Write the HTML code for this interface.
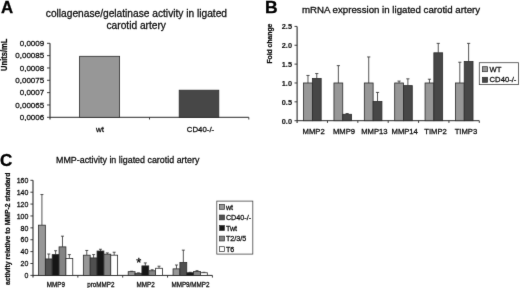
<!DOCTYPE html>
<html lang="en">
<head>
<meta charset="utf-8">
<title>Figure</title>
<style>
html,body{margin:0;padding:0;background:#fff;}
body{width:520px;height:288px;overflow:hidden;}
svg{display:block;font-family:"Liberation Sans",Arial,sans-serif;}
</style>
</head>
<body>
<svg width="520" height="288" viewBox="0 0 520 288">
<defs><filter id="soft" x="0" y="0" width="520" height="288" filterUnits="userSpaceOnUse" color-interpolation-filters="sRGB"><feConvolveMatrix order="3" kernelMatrix="0.01 0.06 0.01 0.06 0.72 0.06 0.01 0.06 0.01" divisor="1" edgeMode="duplicate" preserveAlpha="true"/></filter></defs>
<rect width="520" height="288" fill="#fff"/>
<g filter="url(#soft)">
<rect width="520" height="288" fill="#fff"/>
<g id="panelA">
<text transform="translate(1.1,13.0) scale(1.0,1)" font-size="16.8" text-anchor="start" font-weight="bold" fill="#000" stroke="#000" stroke-width="0.3">A</text>
<text transform="translate(136.4,16.9) scale(1.0,1)" font-size="10.2" text-anchor="middle" font-weight="normal" fill="#0d0d0d" stroke="#0d0d0d" stroke-width="0.27">collagenase/gelatinase activity in ligated</text>
<text transform="translate(136.2,28.9) scale(1.0,1)" font-size="10.2" text-anchor="middle" font-weight="normal" fill="#0d0d0d" stroke="#0d0d0d" stroke-width="0.27">carotid artery</text>
<text transform="translate(7.2,54.8) rotate(-90) scale(0.875,1)" font-size="8.6" text-anchor="middle" font-weight="bold" fill="#0d0d0d" stroke="#0d0d0d" stroke-width="0.27">Units/mL</text>
<line x1="50.00" y1="43.30" x2="50.00" y2="119.50" stroke="#2b2b2b" stroke-width="1.1"/>
<line x1="50.00" y1="117.30" x2="248.80" y2="117.30" stroke="#2b2b2b" stroke-width="1.0"/>
<line x1="47.00" y1="43.30" x2="50.00" y2="43.30" stroke="#2b2b2b" stroke-width="0.9"/>
<text transform="translate(44.2,46.099999999999994) scale(1.0,1)" font-size="8" text-anchor="end" font-weight="normal" fill="#0d0d0d" stroke="#0d0d0d" stroke-width="0.27">0,0009</text>
<line x1="47.00" y1="55.63" x2="50.00" y2="55.63" stroke="#2b2b2b" stroke-width="0.9"/>
<text transform="translate(44.2,58.43333333333333) scale(1.0,1)" font-size="8" text-anchor="end" font-weight="normal" fill="#0d0d0d" stroke="#0d0d0d" stroke-width="0.27">0,00085</text>
<line x1="47.00" y1="67.97" x2="50.00" y2="67.97" stroke="#2b2b2b" stroke-width="0.9"/>
<text transform="translate(44.2,70.76666666666667) scale(1.0,1)" font-size="8" text-anchor="end" font-weight="normal" fill="#0d0d0d" stroke="#0d0d0d" stroke-width="0.27">0,0008</text>
<line x1="47.00" y1="80.30" x2="50.00" y2="80.30" stroke="#2b2b2b" stroke-width="0.9"/>
<text transform="translate(44.2,83.1) scale(1.0,1)" font-size="8" text-anchor="end" font-weight="normal" fill="#0d0d0d" stroke="#0d0d0d" stroke-width="0.27">0,00075</text>
<line x1="47.00" y1="92.63" x2="50.00" y2="92.63" stroke="#2b2b2b" stroke-width="0.9"/>
<text transform="translate(44.2,95.43333333333332) scale(1.0,1)" font-size="8" text-anchor="end" font-weight="normal" fill="#0d0d0d" stroke="#0d0d0d" stroke-width="0.27">0,0007</text>
<line x1="47.00" y1="104.97" x2="50.00" y2="104.97" stroke="#2b2b2b" stroke-width="0.9"/>
<text transform="translate(44.2,107.76666666666667) scale(1.0,1)" font-size="8" text-anchor="end" font-weight="normal" fill="#0d0d0d" stroke="#0d0d0d" stroke-width="0.27">0,00065</text>
<line x1="47.00" y1="117.30" x2="50.00" y2="117.30" stroke="#2b2b2b" stroke-width="0.9"/>
<text transform="translate(44.2,120.1) scale(1.0,1)" font-size="8" text-anchor="end" font-weight="normal" fill="#0d0d0d" stroke="#0d0d0d" stroke-width="0.27">0,0006</text>
<line x1="149.50" y1="117.30" x2="149.50" y2="119.50" stroke="#2b2b2b" stroke-width="0.9"/>
<line x1="248.80" y1="117.30" x2="248.80" y2="119.50" stroke="#2b2b2b" stroke-width="0.9"/>
<rect x="79.60" y="56.30" width="40.00" height="61.00" fill="#979797" stroke="#2b2b2b" stroke-width="0.8"/>
<rect x="179.20" y="90.20" width="39.60" height="27.10" fill="#474747" stroke="#2b2b2b" stroke-width="0.8"/>
<text transform="translate(99.9,132.2) scale(1.0,1)" font-size="8" text-anchor="middle" font-weight="normal" fill="#0d0d0d" stroke="#0d0d0d" stroke-width="0.27">wt</text>
<text transform="translate(200.5,132.0) scale(1.0,1)" font-size="7.8" text-anchor="middle" font-weight="normal" fill="#0d0d0d" stroke="#0d0d0d" stroke-width="0.27">CD40-/-</text>
</g>
<g id="panelB">
<text transform="translate(264.9,12.7) scale(1.08,1)" font-size="16.2" text-anchor="start" font-weight="bold" fill="#000" stroke="#000" stroke-width="0.3">B</text>
<text transform="translate(391,12.9) scale(1.066,1)" font-size="9.1" text-anchor="middle" font-weight="normal" fill="#0d0d0d" stroke="#0d0d0d" stroke-width="0.27">mRNA expression in ligated carotid artery</text>
<text transform="translate(271.5,43.6) rotate(-90) scale(0.85,1)" font-size="8.0" text-anchor="middle" font-weight="bold" fill="#0d0d0d" stroke="#0d0d0d" stroke-width="0.27">Fold change</text>
<line x1="297.10" y1="26.40" x2="297.10" y2="122.90" stroke="#2b2b2b" stroke-width="1.1"/>
<line x1="297.10" y1="120.70" x2="479.30" y2="120.70" stroke="#2b2b2b" stroke-width="1.0"/>
<line x1="294.50" y1="26.40" x2="297.10" y2="26.40" stroke="#2b2b2b" stroke-width="0.9"/>
<text transform="translate(292.0,29.299999999999997) scale(0.97,1)" font-size="7.6" text-anchor="end" font-weight="bold" fill="#0d0d0d" stroke="#0d0d0d" stroke-width="0.1">2.5</text>
<line x1="294.50" y1="45.26" x2="297.10" y2="45.26" stroke="#2b2b2b" stroke-width="0.9"/>
<text transform="translate(292.0,48.160000000000004) scale(0.97,1)" font-size="7.6" text-anchor="end" font-weight="bold" fill="#0d0d0d" stroke="#0d0d0d" stroke-width="0.1">2.0</text>
<line x1="294.50" y1="64.12" x2="297.10" y2="64.12" stroke="#2b2b2b" stroke-width="0.9"/>
<text transform="translate(292.0,67.02000000000001) scale(0.97,1)" font-size="7.6" text-anchor="end" font-weight="bold" fill="#0d0d0d" stroke="#0d0d0d" stroke-width="0.1">1.5</text>
<line x1="294.50" y1="82.98" x2="297.10" y2="82.98" stroke="#2b2b2b" stroke-width="0.9"/>
<text transform="translate(292.0,85.88000000000001) scale(0.97,1)" font-size="7.6" text-anchor="end" font-weight="bold" fill="#0d0d0d" stroke="#0d0d0d" stroke-width="0.1">1.0</text>
<line x1="294.50" y1="101.84" x2="297.10" y2="101.84" stroke="#2b2b2b" stroke-width="0.9"/>
<text transform="translate(292.0,104.74000000000001) scale(0.97,1)" font-size="7.6" text-anchor="end" font-weight="bold" fill="#0d0d0d" stroke="#0d0d0d" stroke-width="0.1">0.5</text>
<line x1="294.50" y1="120.70" x2="297.10" y2="120.70" stroke="#2b2b2b" stroke-width="0.9"/>
<text transform="translate(292.0,123.60000000000002) scale(0.97,1)" font-size="7.6" text-anchor="end" font-weight="bold" fill="#0d0d0d" stroke="#0d0d0d" stroke-width="0.1">0.0</text>
<line x1="327.47" y1="120.70" x2="327.47" y2="122.90" stroke="#2b2b2b" stroke-width="0.9"/>
<line x1="307.98" y1="75.44" x2="307.98" y2="82.98" stroke="#2b2b2b" stroke-width="0.8"/>
<line x1="306.38" y1="75.44" x2="309.58" y2="75.44" stroke="#2b2b2b" stroke-width="0.8"/>
<line x1="316.78" y1="73.55" x2="316.78" y2="78.45" stroke="#2b2b2b" stroke-width="0.8"/>
<line x1="315.18" y1="73.55" x2="318.38" y2="73.55" stroke="#2b2b2b" stroke-width="0.8"/>
<rect x="303.58" y="82.98" width="8.80" height="37.72" fill="#979797" stroke="#2b2b2b" stroke-width="0.8"/>
<rect x="312.38" y="78.45" width="8.80" height="42.25" fill="#474747" stroke="#2b2b2b" stroke-width="0.8"/>
<text transform="translate(313.58333333333337,133.6) scale(0.97,1)" font-size="7.9" text-anchor="middle" font-weight="normal" fill="#0d0d0d" stroke="#0d0d0d" stroke-width="0.27">MMP2</text>
<line x1="357.83" y1="120.70" x2="357.83" y2="122.90" stroke="#2b2b2b" stroke-width="0.9"/>
<line x1="338.35" y1="65.63" x2="338.35" y2="82.98" stroke="#2b2b2b" stroke-width="0.8"/>
<line x1="336.75" y1="65.63" x2="339.95" y2="65.63" stroke="#2b2b2b" stroke-width="0.8"/>
<line x1="347.15" y1="113.53" x2="347.15" y2="114.29" stroke="#2b2b2b" stroke-width="0.8"/>
<line x1="345.55" y1="113.53" x2="348.75" y2="113.53" stroke="#2b2b2b" stroke-width="0.8"/>
<rect x="333.95" y="82.98" width="8.80" height="37.72" fill="#979797" stroke="#2b2b2b" stroke-width="0.8"/>
<rect x="342.75" y="114.29" width="8.80" height="6.41" fill="#474747" stroke="#2b2b2b" stroke-width="0.8"/>
<text transform="translate(343.95000000000005,133.6) scale(0.97,1)" font-size="7.9" text-anchor="middle" font-weight="normal" fill="#0d0d0d" stroke="#0d0d0d" stroke-width="0.27">MMP9</text>
<line x1="388.20" y1="120.70" x2="388.20" y2="122.90" stroke="#2b2b2b" stroke-width="0.9"/>
<line x1="368.72" y1="56.95" x2="368.72" y2="82.98" stroke="#2b2b2b" stroke-width="0.8"/>
<line x1="367.12" y1="56.95" x2="370.32" y2="56.95" stroke="#2b2b2b" stroke-width="0.8"/>
<line x1="377.52" y1="92.41" x2="377.52" y2="101.46" stroke="#2b2b2b" stroke-width="0.8"/>
<line x1="375.92" y1="92.41" x2="379.12" y2="92.41" stroke="#2b2b2b" stroke-width="0.8"/>
<rect x="364.32" y="82.98" width="8.80" height="37.72" fill="#979797" stroke="#2b2b2b" stroke-width="0.8"/>
<rect x="373.12" y="101.46" width="8.80" height="19.24" fill="#474747" stroke="#2b2b2b" stroke-width="0.8"/>
<text transform="translate(374.3166666666667,133.6) scale(0.97,1)" font-size="7.9" text-anchor="middle" font-weight="normal" fill="#0d0d0d" stroke="#0d0d0d" stroke-width="0.27">MMP13</text>
<line x1="418.57" y1="120.70" x2="418.57" y2="122.90" stroke="#2b2b2b" stroke-width="0.9"/>
<line x1="399.08" y1="81.09" x2="399.08" y2="82.98" stroke="#2b2b2b" stroke-width="0.8"/>
<line x1="397.48" y1="81.09" x2="400.68" y2="81.09" stroke="#2b2b2b" stroke-width="0.8"/>
<line x1="407.88" y1="78.83" x2="407.88" y2="85.62" stroke="#2b2b2b" stroke-width="0.8"/>
<line x1="406.28" y1="78.83" x2="409.48" y2="78.83" stroke="#2b2b2b" stroke-width="0.8"/>
<rect x="394.68" y="82.98" width="8.80" height="37.72" fill="#979797" stroke="#2b2b2b" stroke-width="0.8"/>
<rect x="403.48" y="85.62" width="8.80" height="35.08" fill="#474747" stroke="#2b2b2b" stroke-width="0.8"/>
<text transform="translate(404.6833333333334,133.6) scale(0.97,1)" font-size="7.9" text-anchor="middle" font-weight="normal" fill="#0d0d0d" stroke="#0d0d0d" stroke-width="0.27">MMP14</text>
<line x1="448.93" y1="120.70" x2="448.93" y2="122.90" stroke="#2b2b2b" stroke-width="0.9"/>
<line x1="429.45" y1="79.21" x2="429.45" y2="82.98" stroke="#2b2b2b" stroke-width="0.8"/>
<line x1="427.85" y1="79.21" x2="431.05" y2="79.21" stroke="#2b2b2b" stroke-width="0.8"/>
<line x1="438.25" y1="43.37" x2="438.25" y2="52.80" stroke="#2b2b2b" stroke-width="0.8"/>
<line x1="436.65" y1="43.37" x2="439.85" y2="43.37" stroke="#2b2b2b" stroke-width="0.8"/>
<rect x="425.05" y="82.98" width="8.80" height="37.72" fill="#979797" stroke="#2b2b2b" stroke-width="0.8"/>
<rect x="433.85" y="52.80" width="8.80" height="67.90" fill="#474747" stroke="#2b2b2b" stroke-width="0.8"/>
<text transform="translate(435.55,133.6) scale(0.97,1)" font-size="7.9" text-anchor="middle" font-weight="normal" fill="#0d0d0d" stroke="#0d0d0d" stroke-width="0.27">TIMP2</text>
<line x1="479.30" y1="120.70" x2="479.30" y2="122.90" stroke="#2b2b2b" stroke-width="0.9"/>
<line x1="459.82" y1="62.23" x2="459.82" y2="82.98" stroke="#2b2b2b" stroke-width="0.8"/>
<line x1="458.22" y1="62.23" x2="461.42" y2="62.23" stroke="#2b2b2b" stroke-width="0.8"/>
<line x1="468.62" y1="43.37" x2="468.62" y2="61.48" stroke="#2b2b2b" stroke-width="0.8"/>
<line x1="467.02" y1="43.37" x2="470.22" y2="43.37" stroke="#2b2b2b" stroke-width="0.8"/>
<rect x="455.42" y="82.98" width="8.80" height="37.72" fill="#979797" stroke="#2b2b2b" stroke-width="0.8"/>
<rect x="464.22" y="61.48" width="8.80" height="59.22" fill="#474747" stroke="#2b2b2b" stroke-width="0.8"/>
<text transform="translate(465.9166666666667,133.6) scale(0.97,1)" font-size="7.9" text-anchor="middle" font-weight="normal" fill="#0d0d0d" stroke="#0d0d0d" stroke-width="0.27">TIMP3</text>
<rect x="479.30" y="62.70" width="39.20" height="21.90" fill="#fff" stroke="#444" stroke-width="0.8"/>
<rect x="482.40" y="66.70" width="5.20" height="5.00" fill="#979797" stroke="#2b2b2b" stroke-width="0.7"/>
<text transform="translate(489.6,71.6) scale(0.98,1)" font-size="7.8" text-anchor="start" font-weight="normal" fill="#0d0d0d" stroke="#0d0d0d" stroke-width="0.27">WT</text>
<rect x="482.40" y="77.30" width="5.20" height="5.00" fill="#474747" stroke="#2b2b2b" stroke-width="0.7"/>
<text transform="translate(489.6,82.3) scale(0.98,1)" font-size="7.8" text-anchor="start" font-weight="normal" fill="#0d0d0d" stroke="#0d0d0d" stroke-width="0.27">CD40-/-</text>
</g>
<g id="panelC">
<text transform="translate(0.0,165.6) scale(1.05,1)" font-size="16.2" text-anchor="start" font-weight="bold" fill="#000" stroke="#000" stroke-width="0.3">C</text>
<text transform="translate(127.7,162.8) scale(0.968,1)" font-size="9.2" text-anchor="middle" font-weight="normal" fill="#0d0d0d" stroke="#0d0d0d" stroke-width="0.27">MMP-activity in ligated carotid artery</text>
<text transform="translate(10.3,228.8) rotate(-90) scale(0.913,1)" font-size="7.5" text-anchor="middle" font-weight="bold" fill="#0d0d0d" stroke="#0d0d0d" stroke-width="0.27">activity relative to MMP-2 standard</text>
<line x1="33.00" y1="180.30" x2="33.00" y2="277.60" stroke="#2b2b2b" stroke-width="1.1"/>
<line x1="33.00" y1="275.40" x2="212.40" y2="275.40" stroke="#2b2b2b" stroke-width="1.0"/>
<line x1="30.40" y1="180.30" x2="33.00" y2="180.30" stroke="#2b2b2b" stroke-width="0.9"/>
<text transform="translate(28.3,183.0) scale(0.92,1)" font-size="7.6" text-anchor="end" font-weight="normal" fill="#0d0d0d" stroke="#0d0d0d" stroke-width="0.27">160</text>
<line x1="30.40" y1="192.19" x2="33.00" y2="192.19" stroke="#2b2b2b" stroke-width="0.9"/>
<text transform="translate(28.3,194.8875) scale(0.92,1)" font-size="7.6" text-anchor="end" font-weight="normal" fill="#0d0d0d" stroke="#0d0d0d" stroke-width="0.27">140</text>
<line x1="30.40" y1="204.07" x2="33.00" y2="204.07" stroke="#2b2b2b" stroke-width="0.9"/>
<text transform="translate(28.3,206.77499999999998) scale(0.92,1)" font-size="7.6" text-anchor="end" font-weight="normal" fill="#0d0d0d" stroke="#0d0d0d" stroke-width="0.27">120</text>
<line x1="30.40" y1="215.96" x2="33.00" y2="215.96" stroke="#2b2b2b" stroke-width="0.9"/>
<text transform="translate(28.3,218.6625) scale(0.92,1)" font-size="7.6" text-anchor="end" font-weight="normal" fill="#0d0d0d" stroke="#0d0d0d" stroke-width="0.27">100</text>
<line x1="30.40" y1="227.85" x2="33.00" y2="227.85" stroke="#2b2b2b" stroke-width="0.9"/>
<text transform="translate(28.3,230.54999999999998) scale(0.92,1)" font-size="7.6" text-anchor="end" font-weight="normal" fill="#0d0d0d" stroke="#0d0d0d" stroke-width="0.27">80</text>
<line x1="30.40" y1="239.74" x2="33.00" y2="239.74" stroke="#2b2b2b" stroke-width="0.9"/>
<text transform="translate(28.3,242.43749999999997) scale(0.92,1)" font-size="7.6" text-anchor="end" font-weight="normal" fill="#0d0d0d" stroke="#0d0d0d" stroke-width="0.27">60</text>
<line x1="30.40" y1="251.62" x2="33.00" y2="251.62" stroke="#2b2b2b" stroke-width="0.9"/>
<text transform="translate(28.3,254.325) scale(0.92,1)" font-size="7.6" text-anchor="end" font-weight="normal" fill="#0d0d0d" stroke="#0d0d0d" stroke-width="0.27">40</text>
<line x1="30.40" y1="263.51" x2="33.00" y2="263.51" stroke="#2b2b2b" stroke-width="0.9"/>
<text transform="translate(28.3,266.2125) scale(0.92,1)" font-size="7.6" text-anchor="end" font-weight="normal" fill="#0d0d0d" stroke="#0d0d0d" stroke-width="0.27">20</text>
<line x1="30.40" y1="275.40" x2="33.00" y2="275.40" stroke="#2b2b2b" stroke-width="0.9"/>
<text transform="translate(28.3,278.09999999999997) scale(0.92,1)" font-size="7.6" text-anchor="end" font-weight="normal" fill="#0d0d0d" stroke="#0d0d0d" stroke-width="0.27">0</text>
<line x1="77.85" y1="275.40" x2="77.85" y2="277.60" stroke="#2b2b2b" stroke-width="0.9"/>
<line x1="41.92" y1="194.56" x2="41.92" y2="225.18" stroke="#2b2b2b" stroke-width="0.8"/>
<line x1="40.42" y1="194.56" x2="43.42" y2="194.56" stroke="#2b2b2b" stroke-width="0.8"/>
<rect x="38.50" y="225.18" width="6.85" height="50.22" fill="#979797" stroke="#2b2b2b" stroke-width="0.8"/>
<line x1="48.77" y1="254.00" x2="48.77" y2="258.94" stroke="#2b2b2b" stroke-width="0.8"/>
<line x1="47.27" y1="254.00" x2="50.27" y2="254.00" stroke="#2b2b2b" stroke-width="0.8"/>
<rect x="45.35" y="258.94" width="6.85" height="16.46" fill="#505050" stroke="#2b2b2b" stroke-width="0.8"/>
<line x1="55.62" y1="250.73" x2="55.62" y2="254.60" stroke="#2b2b2b" stroke-width="0.8"/>
<line x1="54.12" y1="250.73" x2="57.12" y2="250.73" stroke="#2b2b2b" stroke-width="0.8"/>
<rect x="52.20" y="254.60" width="6.85" height="20.80" fill="#161616" stroke="#2b2b2b" stroke-width="0.8"/>
<line x1="62.47" y1="236.17" x2="62.47" y2="246.87" stroke="#2b2b2b" stroke-width="0.8"/>
<line x1="60.97" y1="236.17" x2="63.97" y2="236.17" stroke="#2b2b2b" stroke-width="0.8"/>
<rect x="59.05" y="246.87" width="6.85" height="28.53" fill="#848484" stroke="#2b2b2b" stroke-width="0.8"/>
<line x1="69.33" y1="254.60" x2="69.33" y2="258.46" stroke="#2b2b2b" stroke-width="0.8"/>
<line x1="67.83" y1="254.60" x2="70.83" y2="254.60" stroke="#2b2b2b" stroke-width="0.8"/>
<rect x="65.90" y="258.46" width="6.85" height="16.94" fill="#ffffff" stroke="#2b2b2b" stroke-width="0.8"/>
<text transform="translate(55.925,286.6) scale(0.913,1)" font-size="6.9" text-anchor="middle" font-weight="normal" fill="#0d0d0d" stroke="#0d0d0d" stroke-width="0.27">MMP9</text>
<line x1="122.70" y1="275.40" x2="122.70" y2="277.60" stroke="#2b2b2b" stroke-width="0.9"/>
<line x1="86.77" y1="250.44" x2="86.77" y2="255.19" stroke="#2b2b2b" stroke-width="0.8"/>
<line x1="85.27" y1="250.44" x2="88.27" y2="250.44" stroke="#2b2b2b" stroke-width="0.8"/>
<rect x="83.35" y="255.19" width="6.85" height="20.21" fill="#979797" stroke="#2b2b2b" stroke-width="0.8"/>
<line x1="93.62" y1="254.60" x2="93.62" y2="257.93" stroke="#2b2b2b" stroke-width="0.8"/>
<line x1="92.12" y1="254.60" x2="95.12" y2="254.60" stroke="#2b2b2b" stroke-width="0.8"/>
<rect x="90.20" y="257.93" width="6.85" height="17.47" fill="#505050" stroke="#2b2b2b" stroke-width="0.8"/>
<line x1="100.47" y1="249.25" x2="100.47" y2="251.03" stroke="#2b2b2b" stroke-width="0.8"/>
<line x1="98.97" y1="249.25" x2="101.97" y2="249.25" stroke="#2b2b2b" stroke-width="0.8"/>
<rect x="97.05" y="251.03" width="6.85" height="24.37" fill="#161616" stroke="#2b2b2b" stroke-width="0.8"/>
<line x1="107.32" y1="252.93" x2="107.32" y2="254.18" stroke="#2b2b2b" stroke-width="0.8"/>
<line x1="105.82" y1="252.93" x2="108.82" y2="252.93" stroke="#2b2b2b" stroke-width="0.8"/>
<rect x="103.90" y="254.18" width="6.85" height="21.22" fill="#848484" stroke="#2b2b2b" stroke-width="0.8"/>
<line x1="114.17" y1="252.22" x2="114.17" y2="255.19" stroke="#2b2b2b" stroke-width="0.8"/>
<line x1="112.67" y1="252.22" x2="115.67" y2="252.22" stroke="#2b2b2b" stroke-width="0.8"/>
<rect x="110.75" y="255.19" width="6.85" height="20.21" fill="#ffffff" stroke="#2b2b2b" stroke-width="0.8"/>
<text transform="translate(100.77499999999999,286.6) scale(0.913,1)" font-size="6.9" text-anchor="middle" font-weight="normal" fill="#0d0d0d" stroke="#0d0d0d" stroke-width="0.27">proMMP2</text>
<line x1="167.55" y1="275.40" x2="167.55" y2="277.60" stroke="#2b2b2b" stroke-width="0.9"/>
<line x1="131.62" y1="271.24" x2="131.62" y2="271.66" stroke="#2b2b2b" stroke-width="0.8"/>
<line x1="130.12" y1="271.24" x2="133.12" y2="271.24" stroke="#2b2b2b" stroke-width="0.8"/>
<rect x="128.20" y="271.66" width="6.85" height="3.74" fill="#979797" stroke="#2b2b2b" stroke-width="0.8"/>
<line x1="138.47" y1="272.90" x2="138.47" y2="273.26" stroke="#2b2b2b" stroke-width="0.8"/>
<line x1="136.97" y1="272.90" x2="139.97" y2="272.90" stroke="#2b2b2b" stroke-width="0.8"/>
<rect x="135.05" y="273.26" width="6.85" height="2.14" fill="#505050" stroke="#2b2b2b" stroke-width="0.8"/>
<line x1="145.32" y1="262.92" x2="145.32" y2="265.89" stroke="#2b2b2b" stroke-width="0.8"/>
<line x1="143.82" y1="262.92" x2="146.82" y2="262.92" stroke="#2b2b2b" stroke-width="0.8"/>
<rect x="141.90" y="265.89" width="6.85" height="9.51" fill="#161616" stroke="#2b2b2b" stroke-width="0.8"/>
<line x1="152.17" y1="269.75" x2="152.17" y2="270.76" stroke="#2b2b2b" stroke-width="0.8"/>
<line x1="150.67" y1="269.75" x2="153.67" y2="269.75" stroke="#2b2b2b" stroke-width="0.8"/>
<rect x="148.75" y="270.76" width="6.85" height="4.64" fill="#848484" stroke="#2b2b2b" stroke-width="0.8"/>
<line x1="159.02" y1="266.19" x2="159.02" y2="268.27" stroke="#2b2b2b" stroke-width="0.8"/>
<line x1="157.52" y1="266.19" x2="160.52" y2="266.19" stroke="#2b2b2b" stroke-width="0.8"/>
<rect x="155.60" y="268.27" width="6.85" height="7.13" fill="#ffffff" stroke="#2b2b2b" stroke-width="0.8"/>
<text transform="translate(145.625,286.6) scale(0.913,1)" font-size="6.9" text-anchor="middle" font-weight="normal" fill="#0d0d0d" stroke="#0d0d0d" stroke-width="0.27">MMP2</text>
<line x1="212.40" y1="275.40" x2="212.40" y2="277.60" stroke="#2b2b2b" stroke-width="0.9"/>
<line x1="176.48" y1="265.00" x2="176.48" y2="268.86" stroke="#2b2b2b" stroke-width="0.8"/>
<line x1="174.98" y1="265.00" x2="177.98" y2="265.00" stroke="#2b2b2b" stroke-width="0.8"/>
<rect x="173.05" y="268.86" width="6.85" height="6.54" fill="#979797" stroke="#2b2b2b" stroke-width="0.8"/>
<line x1="183.33" y1="250.14" x2="183.33" y2="262.50" stroke="#2b2b2b" stroke-width="0.8"/>
<line x1="181.83" y1="250.14" x2="184.83" y2="250.14" stroke="#2b2b2b" stroke-width="0.8"/>
<rect x="179.90" y="262.50" width="6.85" height="12.90" fill="#505050" stroke="#2b2b2b" stroke-width="0.8"/>
<line x1="190.18" y1="272.31" x2="190.18" y2="272.73" stroke="#2b2b2b" stroke-width="0.8"/>
<line x1="188.68" y1="272.31" x2="191.68" y2="272.31" stroke="#2b2b2b" stroke-width="0.8"/>
<rect x="186.75" y="272.73" width="6.85" height="2.67" fill="#161616" stroke="#2b2b2b" stroke-width="0.8"/>
<line x1="197.03" y1="270.64" x2="197.03" y2="271.54" stroke="#2b2b2b" stroke-width="0.8"/>
<line x1="195.53" y1="270.64" x2="198.53" y2="270.64" stroke="#2b2b2b" stroke-width="0.8"/>
<rect x="193.60" y="271.54" width="6.85" height="3.86" fill="#848484" stroke="#2b2b2b" stroke-width="0.8"/>
<line x1="203.88" y1="272.31" x2="203.88" y2="272.73" stroke="#2b2b2b" stroke-width="0.8"/>
<line x1="202.38" y1="272.31" x2="205.38" y2="272.31" stroke="#2b2b2b" stroke-width="0.8"/>
<rect x="200.45" y="272.73" width="6.85" height="2.67" fill="#ffffff" stroke="#2b2b2b" stroke-width="0.8"/>
<text transform="translate(190.47500000000002,286.6) scale(0.913,1)" font-size="6.9" text-anchor="middle" font-weight="normal" fill="#0d0d0d" stroke="#0d0d0d" stroke-width="0.27">MMP9/MMP2</text>
<text transform="translate(138.7,266.9) scale(1.0,1)" font-size="13" text-anchor="middle" font-weight="normal" fill="#000" stroke="#000" stroke-width="0.27">*</text>
<rect x="216.80" y="201.10" width="36.00" height="53.00" fill="#fff" stroke="#444" stroke-width="0.8"/>
<rect x="219.60" y="204.50" width="4.80" height="4.80" fill="#979797" stroke="#2b2b2b" stroke-width="0.7"/>
<text transform="translate(225.9,209.65) scale(0.947,1)" font-size="7.6" text-anchor="start" font-weight="normal" fill="#0d0d0d" stroke="#0d0d0d" stroke-width="0.27">wt</text>
<rect x="219.60" y="215.05" width="4.80" height="4.80" fill="#505050" stroke="#2b2b2b" stroke-width="0.7"/>
<text transform="translate(225.9,220.20000000000002) scale(0.947,1)" font-size="7.6" text-anchor="start" font-weight="normal" fill="#0d0d0d" stroke="#0d0d0d" stroke-width="0.27">CD40-/-</text>
<rect x="219.60" y="225.60" width="4.80" height="4.80" fill="#161616" stroke="#2b2b2b" stroke-width="0.7"/>
<text transform="translate(225.9,230.75) scale(0.947,1)" font-size="7.6" text-anchor="start" font-weight="normal" fill="#0d0d0d" stroke="#0d0d0d" stroke-width="0.27">Twt</text>
<rect x="219.60" y="236.15" width="4.80" height="4.80" fill="#848484" stroke="#2b2b2b" stroke-width="0.7"/>
<text transform="translate(225.9,241.3) scale(0.947,1)" font-size="7.6" text-anchor="start" font-weight="normal" fill="#0d0d0d" stroke="#0d0d0d" stroke-width="0.27">T2/3/5</text>
<rect x="219.60" y="246.70" width="4.80" height="4.80" fill="#ffffff" stroke="#2b2b2b" stroke-width="0.7"/>
<text transform="translate(225.9,251.85) scale(0.947,1)" font-size="7.6" text-anchor="start" font-weight="normal" fill="#0d0d0d" stroke="#0d0d0d" stroke-width="0.27">T6</text>
</g>
</g>
</svg>
</body>
</html>
